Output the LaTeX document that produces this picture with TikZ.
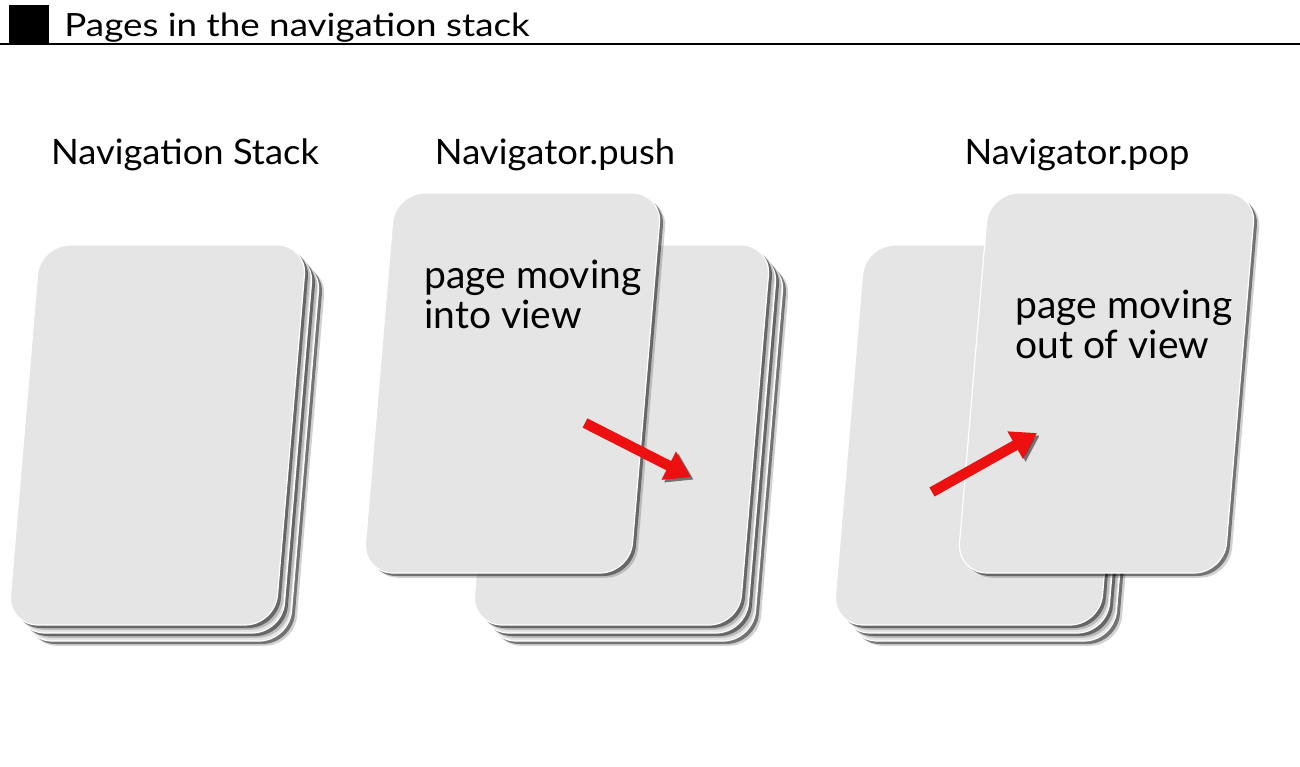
\documentclass[tikz,border=0pt]{standalone}
\usepackage{fontspec}
\setmainfont{Lato}
\newfontfamily\titlefont{Lato}[FakeStretch=1.15]
\newfontfamily\headfont{Lato}[FakeStretch=1.04]
\usetikzlibrary{arrows.meta,shadows}

\definecolor{pagegray}{RGB}{229,229,229}
\definecolor{arrowred}{RGB}{237,16,16}

% one slanted page, given by its bottom left corner
\newcommand{\navpage}[2]{\filldraw[page] (#1,#2) -- ++(32,-380) -- ++(267,0) -- ++(-32,380) -- cycle;}

\begin{document}
\begin{tikzpicture}[x=0.5pt,y=-0.5pt,
	page/.style={fill=pagegray,draw=white,line width=0.6pt,rounded corners=15pt,
		general shadow={shadow xshift=2.8pt,shadow yshift=-2.4pt,fill=black,opacity=0.18},
		general shadow={shadow xshift=1.7pt,shadow yshift=-1.5pt,fill=black,opacity=0.45}},
	heading/.style={font=\headfont\fontsize{17.5}{21}\selectfont,anchor=base,inner sep=0},
	caption/.style={font=\fontsize{19.5}{23}\selectfont,anchor=base west,inner sep=0},
	move/.style={draw=arrowred,line width=5.2pt,-{Triangle[length=12.5pt,width=15pt]},
		preaction={draw=black,opacity=0.5,transform canvas={xshift=1.3pt,yshift=-1.3pt}}}]
	\useasboundingbox (0,0) rectangle (1300,766);

	\node[fill=black,inner sep=0,minimum width=20pt,minimum height=19pt,anchor=south west] (mark) at (9,43) {};
	\node[anchor=base west,inner sep=0,font=\titlefont\fontsize{16}{19}\selectfont] (title) at (64,36) {Pages in the navigation stack};
	\draw[line width=1pt] (0,44) -- (1300,44);

	\node[heading] (stack) at (185,164) {Navigation Stack};
	\node[heading] (push)  at (555,164) {Navigator.push};
	\node[heading] (pop)   at (1077,164) {Navigator.pop};

	% navigation stack
	\navpage{22}{641}
	\navpage{15}{633}
	\navpage{8}{625}

	% push
	\navpage{486}{641}
	\navpage{479}{633}
	\navpage{472}{625}
	\navpage{363}{573}
	\node[caption] (in1) at (424,288) {page moving};
	\node[caption] (in2) at (424,328) {into view};

	% pop
	\navpage{847}{641}
	\navpage{840}{633}
	\navpage{833}{625}
	\navpage{957}{573}
	\node[caption] (out1) at (1015,318) {page moving};
	\node[caption] (out2) at (1015,358) {out of view};

	\coordinate (pushtail) at (585,423);
	\coordinate (pushtip)  at (691,477);
	\coordinate (poptail)  at (932,492);
	\coordinate (poptip)   at (1037,433);
	\path[move] (pushtail) -- (pushtip);
	\path[move] (poptail) -- (poptip);
\end{tikzpicture}
\end{document}
